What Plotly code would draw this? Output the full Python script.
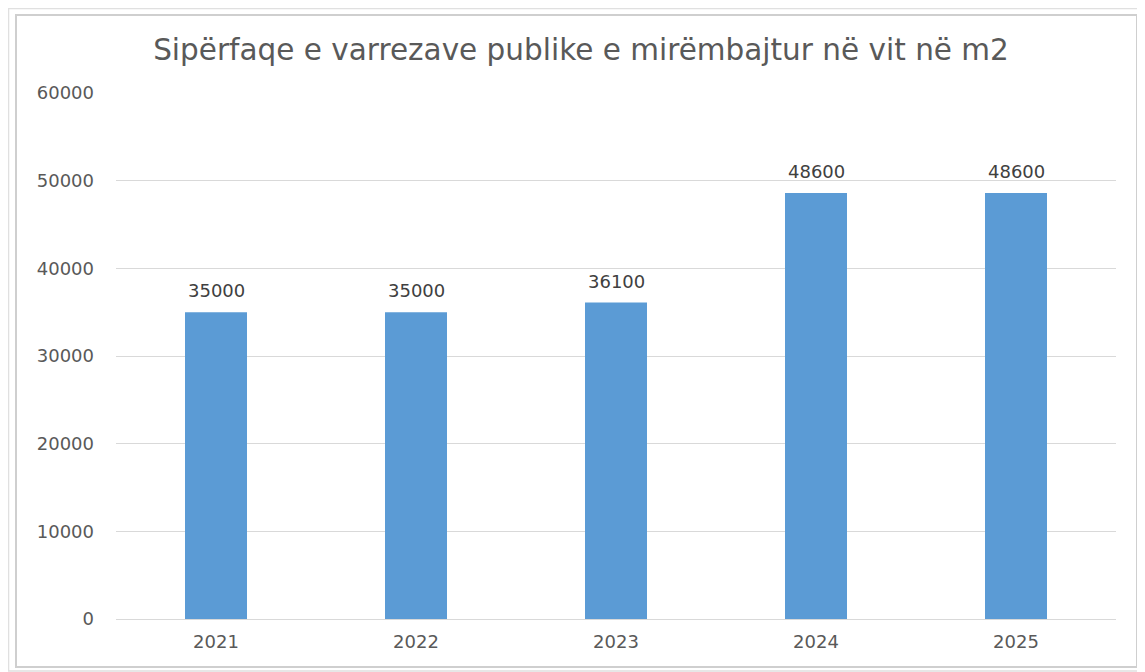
import plotly.graph_objects as go

years = ["2021", "2022", "2023", "2024", "2025"]
values = [35000, 35000, 36100, 48600, 48600]
y_ticks = [0, 10000, 20000, 30000, 40000, 50000, 60000]
y_tick_labels = ["0", "10000", "20000", "30000", "40000", "50000", "60000"]
title_text = "Sipërfaqe e varrezave publike e mirëmbajtur në vit në m2"

OFF = 8  # page body margin
W, H = 1145 - OFF, 672 - OFF
L, R, T, B = 116, 1116, 93, 619  # plot area in screen px

def px(x):
    return (x - L) / (R - L)

def py(y):
    return (B - y) / (B - T)

FONT = "DejaVu Sans, sans-serif"

fig = go.Figure(go.Bar(
    x=years, y=values,
    marker=dict(color="#5b9bd5", line=dict(width=0)),
    hoverinfo="x+y",
))

# category index positions for the value labels
for i, v in enumerate(values):
    fig.add_annotation(x=i, y=v, text=str(v), showarrow=False,
                       yanchor="bottom", yshift=9,
                       font=dict(family=FONT, size=18, color="#404040"))

fig.update_layout(
    width=W, height=H,
    margin=dict(l=L - OFF, r=OFF + W - R, t=T - OFF, b=OFF + H - B),
    paper_bgcolor="white", plot_bgcolor="white",
    bargap=0.69,
    showlegend=False,
    font=dict(family=FONT, color="#595959"),
    title=dict(text=title_text, x=(581 - OFF) / W, xanchor="center",
               y=1 - (50 - OFF) / H, yanchor="middle", yref="container",
               font=dict(family=FONT, size=29.5, color="#595959")),
    xaxis=dict(type="category", categoryorder="array", categoryarray=years,
               range=[-0.5, len(years) - 0.5],
               showgrid=False, showline=True, linecolor="#d9d9d9", linewidth=1,
               ticks="", tickfont=dict(size=18, color="#595959"),
               ticklabelstandoff=6),
    yaxis=dict(range=[0, 60000], tickvals=y_ticks, ticktext=y_tick_labels,
               showgrid=True, gridcolor="#d9d9d9", gridwidth=1,
               zeroline=False, showline=False,
               ticks="", tickfont=dict(size=18, color="#595959"),
               ticklabelstandoff=21),
    shapes=[
        dict(type="rect", xref="paper", yref="paper",
             x0=px(OFF + 0.5), x1=px(OFF + W - 1), y0=py(OFF + H - 1), y1=py(OFF + 0.5),
             line=dict(color="#e0e0e0", width=1.5), layer="below"),
        dict(type="rect", xref="paper", yref="paper",
             x0=px(16), x1=px(1137), y0=py(667), y1=py(15),
             line=dict(color="#cfcfcf", width=2), layer="below"),
    ],
)

fig.write_html("out.html")
